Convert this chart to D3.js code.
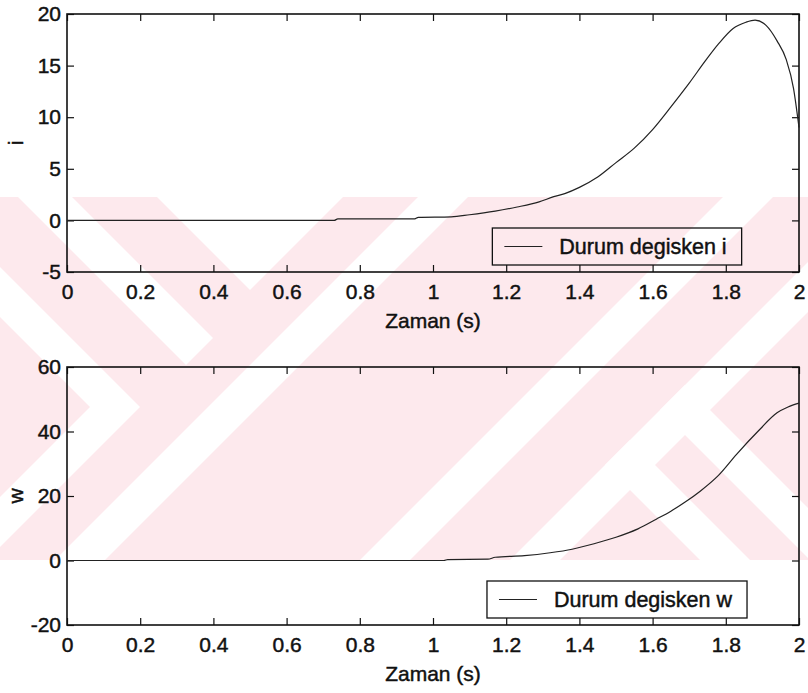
<!DOCTYPE html>
<html>
<head>
<meta charset="utf-8">
<script src="https://cdn.jsdelivr.net/npm/d3@7"></script>
<style>
    html, body { margin: 0; padding: 0; background: #fff; }
    svg text { font-family: "Liberation Sans", Arial, sans-serif; fill: #111; }
</style>
</head>
<body>
<div id="chart"></div>
<script>
// state variable i
const tI = [0, 0.73, 0.74, 0.95, 0.96, 1.05, 1.10, 1.17, 1.23, 1.29, 1.33, 1.36, 1.40, 1.45, 1.50,
    1.55, 1.60, 1.65, 1.70, 1.745, 1.78, 1.82, 1.855, 1.88, 1.91, 1.94, 1.965, 1.985, 2.0];
const iVals = [0, 0, 0.15, 0.15, 0.3, 0.35, 0.55, 0.9, 1.3, 1.8, 2.3, 2.6, 3.2, 4.2, 5.6,
    7.0, 8.8, 11.0, 13.3, 15.5, 17.1, 18.6, 19.2, 19.4, 18.9, 17.4, 15.6, 12.8, 9.0];

// state variable w
const tW = [0, 1.03, 1.04, 1.15, 1.17, 1.25, 1.32, 1.38, 1.44, 1.50, 1.56, 1.61, 1.65, 1.69,
    1.73, 1.78, 1.83, 1.89, 1.94, 1.97, 2.0];
const wVals = [0, 0, 0.3, 0.4, 1.0, 1.5, 2.4, 3.5, 5.2, 7.2, 9.8, 12.8, 15.3, 18.2,
    21.5, 26.4, 33.0, 40.3, 45.8, 47.6, 48.8];

const xTicks = [0, 0.2, 0.4, 0.6, 0.8, 1, 1.2, 1.4, 1.6, 1.8, 2];
const iTicks = [-5, 0, 5, 10, 15, 20];
const wTicks = [-20, 0, 20, 40, 60];

const xLabel = 'Zaman (s)';
const legendI = 'Durum degisken i';
const legendW = 'Durum degisken w';

const width = 808, height = 693;
const ink = '#111';

const svg = d3.select('#chart')
    .append('svg')
    .attr('width', width)
    .attr('height', height);

drawWatermark();

const x = d3.scaleLinear().domain([0, 2]).range([67, 799]);

drawPanel(tI, iVals, iTicks, 'i', legendI, 14, 272);
drawPanel(tW, wVals, wTicks, 'w', legendW, 367, 625);

/**
 * pale pink scan watermark behind both plots
 */
function drawWatermark(){
    const band = [197, 560];
    const shapes = [
        [[18, 197], [72, 197], [213, 338], [186, 365]],
        [[157, 197], [343, 197], [250, 290]],
        [[0, 267], [140, 407], [0, 547], [0, 497], [90, 407], [0, 317]],
        [[418, 197], [468, 197], [105, 560], [55, 560]],
        [[723, 197], [773, 197], [410, 560], [360, 560]],
        [[808, 262], [808, 312], [560, 560], [510, 560]],
        [[630, 440], [750, 560], [700, 560], [605, 465]],
        [[685, 385], [808, 508], [808, 558], [660, 410]]
    ];

    svg.append('clipPath').attr('id', 'bandClip')
        .append('rect')
        .attr('x', 0).attr('y', band[0])
        .attr('width', width).attr('height', band[1] - band[0]);

    const wm = svg.append('g').attr('clip-path', 'url(#bandClip)');
    wm.append('rect')
        .attr('x', 0).attr('y', band[0])
        .attr('width', width).attr('height', band[1] - band[0])
        .attr('fill', '#fde9ed');
    wm.selectAll('polygon')
        .data(shapes).enter()
        .append('polygon')
        .attr('points', d => d.map(p => p.join(',')).join(' '))
        .attr('fill', '#fff');
}

function styleAxis(sel){
    sel.select('.domain').remove();
    sel.selectAll('.tick line').attr('stroke', ink).attr('stroke-width', 1.2);
    sel.selectAll('.tick text')
        .attr('font-size', '21px')
        .attr('font-family', '"Liberation Sans", Arial, sans-serif')
        .attr('fill', ink)
        .attr('stroke', ink)
        .attr('stroke-width', 0.45);
}

function drawPanel(t, vals, yTicks, yName, legendText, top, bottom){
    const y = d3.scaleLinear()
        .domain([yTicks[0], yTicks[yTicks.length - 1]])
        .range([bottom, top]);
    const fmt = d => String(+d.toFixed(1));

    const g = svg.append('g');

    g.append('g')
        .attr('transform', 'translate(0,' + bottom + ')')
        .call(d3.axisBottom(x).tickValues(xTicks).tickFormat(fmt)
            .tickSizeInner(-7).tickSizeOuter(0).tickPadding(12))
        .call(styleAxis);

    g.append('g')
        .attr('transform', 'translate(0,' + top + ')')
        .call(d3.axisTop(x).tickValues(xTicks).tickFormat('')
            .tickSizeInner(-7).tickSizeOuter(0))
        .call(styleAxis);

    g.append('g')
        .attr('transform', 'translate(' + x.range()[0] + ',0)')
        .call(d3.axisLeft(y).tickValues(yTicks).tickFormat(fmt)
            .tickSizeInner(-7).tickSizeOuter(0).tickPadding(6))
        .call(styleAxis);

    g.append('g')
        .attr('transform', 'translate(' + x.range()[1] + ',0)')
        .call(d3.axisRight(y).tickValues(yTicks).tickFormat('')
            .tickSizeInner(-7).tickSizeOuter(0))
        .call(styleAxis);

    g.append('rect')
        .attr('x', x.range()[0])
        .attr('y', top)
        .attr('width', x.range()[1] - x.range()[0])
        .attr('height', bottom - top)
        .attr('fill', 'none')
        .attr('stroke', ink)
        .attr('stroke-width', 1.6);

    const lineFunc = d3.line()
        .x(d => x(d[0]))
        .y(d => y(d[1]))
        .curve(d3.curveMonotoneX);

    g.append('path')
        .attr('d', lineFunc(d3.zip(t, vals)))
        .attr('fill', 'none')
        .attr('stroke', '#222')
        .attr('stroke-width', 1.2);

    // axis labels
    g.append('text')
        .attr('x', (x.range()[0] + x.range()[1]) / 2)
        .attr('y', bottom + 56)
        .attr('text-anchor', 'middle')
        .attr('font-size', '21px')
        .attr('stroke', ink).attr('stroke-width', 0.45)
        .text(xLabel);

    g.append('text')
        .attr('transform', 'translate(23,' + (top + bottom) / 2 + ')rotate(-90)')
        .attr('text-anchor', 'middle')
        .attr('font-size', '21px')
        .attr('stroke', ink).attr('stroke-width', 0.45)
        .text(yName);

    // legend, centred like the original
    const legendCx = 617, boxTop = bottom - 44, boxH = 37;
    const lg = g.append('g');
    const label = lg.append('text')
        .attr('font-size', '21.5px')
        .attr('stroke', ink).attr('stroke-width', 0.45)
        .text(legendText);
    const textLen = label.node().getComputedTextLength();
    const boxW = 12 + 38 + 17 + textLen + 15;
    const boxLeft = legendCx - boxW / 2;
    const midY = boxTop + boxH / 2;

    label.attr('x', boxLeft + 12 + 38 + 17).attr('y', midY + 7.5);

    lg.insert('rect', 'text')
        .attr('x', boxLeft).attr('y', boxTop)
        .attr('width', boxW).attr('height', boxH)
        .attr('fill', 'none')
        .attr('stroke', ink)
        .attr('stroke-width', 1.3);

    lg.append('line')
        .attr('x1', boxLeft + 12).attr('x2', boxLeft + 50)
        .attr('y1', midY).attr('y2', midY)
        .attr('stroke', '#222')
        .attr('stroke-width', 1.1);
}
</script>
</body>
</html>
